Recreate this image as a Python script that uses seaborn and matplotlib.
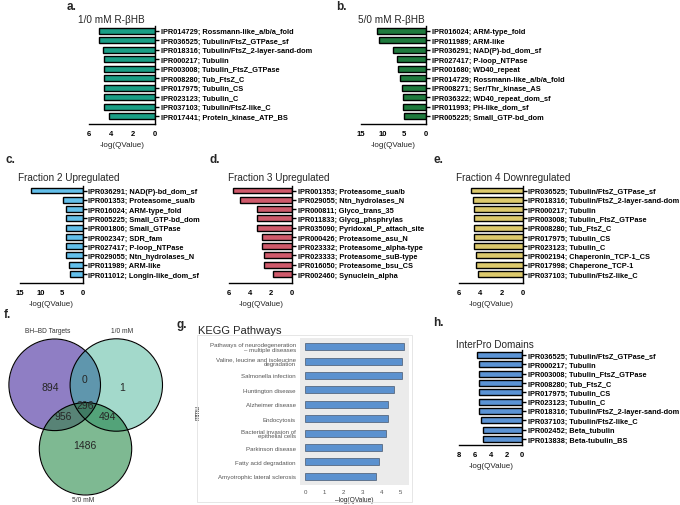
import numpy as np
import matplotlib
matplotlib.use("Agg")
import matplotlib.pyplot as plt
from matplotlib.patches import Circle, Rectangle
import seaborn as sns

W, H = 680, 506

# ---- data ----
a_terms = ["IPR014729; Rossmann-like_a/b/a_fold", "IPR036525; Tubulin/FtsZ_GTPase_sf",
           "IPR018316; Tubulin/FtsZ_2-layer-sand-dom", "IPR000217; Tubulin",
           "IPR003008; Tubulin_FtsZ_GTPase", "IPR008280; Tub_FtsZ_C", "IPR017975; Tubulin_CS",
           "IPR023123; Tubulin_C", "IPR037103; Tubulin/FtsZ-like_C", "IPR017441; Protein_kinase_ATP_BS"]
a_vals = [5.12, 5.09, 4.73, 4.7, 4.7, 4.7, 4.7, 4.7, 4.63, 4.18]

b_terms = ["IPR016024; ARM-type_fold", "IPR011989; ARM-like", "IPR036291; NAD(P)-bd_dom_sf",
           "IPR027417; P-loop_NTPase", "IPR001680; WD40_repeat", "IPR014729; Rossmann-like_a/b/a_fold",
           "IPR008271; Ser/Thr_kinase_AS", "IPR036322; WD40_repeat_dom_sf", "IPR011993; PH-like_dom_sf",
           "IPR005225; Small_GTP-bd_dom"]
b_vals = [11.3, 10.7, 7.5, 6.6, 6.3, 5.9, 5.5, 5.35, 5.3, 5.0]

c_terms = ["IPR036291; NAD(P)-bd_dom_sf", "IPR001353; Proteasome_sua/b", "IPR016024; ARM-type_fold",
           "IPR005225; Small_GTP-bd_dom", "IPR001806; Small_GTPase", "IPR002347; SDR_fam",
           "IPR027417; P-loop_NTPase", "IPR029055; Ntn_hydrolases_N", "IPR011989; ARM-like",
           "IPR011012; Longin-like_dom_sf"]
c_vals = [12.3, 4.76, 3.97, 3.95, 3.9, 3.9, 3.9, 3.85, 3.2, 2.95]

d_terms = ["IPR001353; Proteasome_sua/b", "IPR029055; Ntn_hydrolases_N", "IPR000811; Glyco_trans_35",
           "IPR011833; Glycg_phsphrylas", "IPR035090; Pyridoxal_P_attach_site", "IPR000426; Proteasome_asu_N",
           "IPR023332; Proteasome_alpha-type", "IPR023333; Proteasome_suB-type",
           "IPR016050; Proteasome_bsu_CS", "IPR002460; Synuclein_alpha"]
d_vals = [5.58, 5.0, 3.37, 3.37, 3.37, 2.87, 2.84, 2.71, 2.71, 1.8]

e_terms = ["IPR036525; Tubulin/FtsZ_GTPase_sf", "IPR018316; Tubulin/FtsZ_2-layer-sand-dom",
           "IPR000217; Tubulin", "IPR003008; Tubulin_FtsZ_GTPase", "IPR008280; Tub_FtsZ_C",
           "IPR017975; Tubulin_CS", "IPR023123; Tubulin_C", "IPR002194; Chaperonin_TCP-1_CS",
           "IPR017998; Chaperone_TCP-1", "IPR037103; Tubulin/FtsZ-like_C"]
e_vals = [4.86, 4.7, 4.63, 4.63, 4.63, 4.63, 4.63, 4.38, 4.38, 4.22]

h_terms = ["IPR036525; Tubulin/FtsZ_GTPase_sf", "IPR000217; Tubulin", "IPR003008; Tubulin_FtsZ_GTPase",
           "IPR008280; Tub_FtsZ_C", "IPR017975; Tubulin_CS", "IPR023123; Tubulin_C",
           "IPR018316; Tubulin/FtsZ_2-layer-sand-dom", "IPR037103; Tubulin/FtsZ-like_C",
           "IPR002452; Beta_tubulin", "IPR013838; Beta-tubulin_BS"]
h_vals = [5.77, 5.44, 5.44, 5.44, 5.44, 5.44, 5.44, 5.27, 4.94, 4.94]

kegg_terms = ["Pathways of neurodegeneration\n\u2013 multiple diseases",
              "Valine, leucine and isoleucine\ndegradation", "Salmonella infection",
              "Huntington disease", "Alzheimer disease", "Endocytosis",
              "Bacterial invasion of\nepithelial cells", "Parkinson disease",
              "Fatty acid degradation", "Amyotrophic lateral sclerosis"]
kegg_vals = [5.17, 5.07, 5.07, 4.67, 4.31, 4.34, 4.23, 4.03, 3.84, 3.71]

venn_sets = ["BH\u2013BD Targets", "1/0 mM", "5/0 mM"]
venn_counts = [894, 1, 1486, 0, 956, 494, 296]  # P, T, G, PT, PG, TG, PTG

sns.set_style("white")
plt.rcParams["font.family"] = ["Liberation Sans", "DejaVu Sans"]
plt.rcParams["font.weight"] = "bold"

fig = plt.figure(figsize=(W / 100, H / 100), dpi=100)


def bar_panel(box, terms, vals, color, xmax, step, title, letter, title_xy, letter_xy):
    left, right, first, last, axis_y = box
    n = len(terms)
    sp = (last - first) / (n - 1)
    top = first - sp / 2
    ax = fig.add_axes([left / W, 1 - axis_y / H, (right - left) / W, (axis_y - top) / H])
    sns.barplot(x=vals, y=terms, orient="h", color=color, saturation=1,
                edgecolor="black", linewidth=1.0, width=0.64, ax=ax)
    ax.set_xlim(xmax, 0)
    ax.set_ylim((n - 1) + (axis_y - last) / sp, -0.5)
    ax.set_xticks(np.arange(0, xmax + 0.1, step))
    ax.yaxis.tick_right()
    for s in ["left", "top"]:
        ax.spines[s].set_visible(False)
    for s in ["right", "bottom"]:
        ax.spines[s].set_linewidth(1.0)
        ax.spines[s].set_color("black")
    ax.tick_params(axis="y", length=3, width=1.0, pad=1, labelsize=5.3, colors="black")
    ax.tick_params(axis="x", length=3, width=1.0, pad=1.5, labelsize=5.5, colors="black")
    ax.set_ylabel("")
    ax.set_xlabel("-log(QValue)", fontsize=5.8, labelpad=3)
    fig.text(title_xy[0] / W, 1 - title_xy[1] / H, title, fontsize=8.5 if letter in "ab" else 7.2,
             fontweight="normal", va="center", ha="left")
    fig.text(letter_xy[0] / W, 1 - letter_xy[1] / H, letter, fontsize=8.5, va="center", ha="left")
    return ax


bar_panel((89.3, 155.3, 31.7, 117.3, 125), a_terms, a_vals, "#1A9E86", 6, 2,
          "1/0 mM R-\u03b2HB", "a.", (78, 20), (67, 7))
bar_panel((360.5, 426, 31.7, 117.3, 125), b_terms, b_vals, "#1F7A3D", 15, 5,
          "5/0 mM R-\u03b2HB", "b.", (358, 20), (336, 7))
bar_panel((20, 82.5, 191.5, 275, 284), c_terms, c_vals, "#63BFEA", 15, 5,
          "Fraction 2 Upregulated", "c.", (18, 178), (5, 160))
bar_panel((229, 292.3, 191.5, 275, 284), d_terms, d_vals, "#CF5A6B", 6, 2,
          "Fraction 3 Upregulated", "d.", (228, 178), (210, 160))
bar_panel((459.3, 522.5, 191.5, 275, 284), e_terms, e_vals, "#DCC96C", 6, 2,
          "Fraction 4 Downregulated", "e.", (456, 178), (433, 160))
bar_panel((459, 522.3, 356, 440, 445.5), h_terms, h_vals, "#5B93D4", 8, 2,
          "InterPro Domains", "h.", (456, 345), (433, 323))

# ---- g: KEGG (ggplot look) ----
fig.patches.append(Rectangle((197 / W, 1 - 502.5 / H), (411.5 - 197) / W, (502.5 - 336) / H,
                             transform=fig.transFigure, fill=False, ec="#E2E2E2", lw=0.6))
axg = fig.add_axes([300 / W, 1 - 486 / H, 109 / W, 147 / H])
axg.set_facecolor("#EBEBEB")
sns.barplot(x=kegg_vals, y=kegg_terms, orient="h", color="#5B91CF", saturation=1,
            edgecolor="#2F3F55", linewidth=0.4, width=0.48, ax=axg)
axg.set_xlim(-0.26, 5.43)
axg.set_ylim(9.6, -0.6)
axg.set_xticks(range(6))
for s in axg.spines.values():
    s.set_visible(False)
axg.tick_params(length=2, width=0.5, colors="#555555", labelsize=4.4, pad=1)
for lbl in axg.get_xticklabels() + axg.get_yticklabels():
    lbl.set_fontweight("normal")
    lbl.set_color("#555555")
for lbl in axg.get_yticklabels():
    lbl.set_linespacing(0.95)
axg.set_xlabel("\u2013log(QValue)", fontsize=4.8, fontweight="normal", labelpad=1.5)
axg.set_ylabel("mmu", fontsize=4.8, fontweight="normal")
axg.yaxis.set_label_coords(-(300 - 202) / 109, 0.5)
fig.text(198 / W, 1 - 331 / H, "KEGG Pathways", fontsize=8, fontweight="normal", va="center")
fig.text(176 / W, 1 - 325 / H, "g.", fontsize=8.5, va="center")

# ---- f: Venn ----
axf = fig.add_axes([0, 0, 175 / W, 195 / H])
circles = [(54.7, 385.8, 45.8), (116.3, 386.0, 46.2), (85.5, 449.8, 46.2)]
xx, yy = np.meshgrid(np.linspace(0, 175, 700), np.linspace(311, 506, 780))
inside = [((xx - cx) ** 2 + (yy - cy) ** 2) <= r ** 2 for cx, cy, r in circles]
code = inside[0] * 1 + inside[1] * 2 + inside[2] * 4
lut = np.array([
    [1, 1, 1, 0],
    [143 / 255, 126 / 255, 196 / 255, 1],   # P
    [163 / 255, 218 / 255, 203 / 255, 1],   # T
    [96 / 255, 151 / 255, 174 / 255, 1],    # PT
    [126 / 255, 186 / 255, 146 / 255, 1],   # G
    [88 / 255, 132 / 255, 118 / 255, 1],    # PG
    [84 / 255, 163 / 255, 122 / 255, 1],    # TG
    [64 / 255, 124 / 255, 100 / 255, 1],    # PTG
])
axf.imshow(lut[code], extent=(0, 175, 506, 311), origin="upper", interpolation="bilinear")
for cx, cy, r in circles:
    axf.add_patch(Circle((cx, cy), r, fill=False, ec="black", lw=0.8))
count_pos = [(50, 388), (122, 388), (85, 446), (85, 380), (63, 417), (107, 417), (85, 406)]
for (px, py), cnt in zip(count_pos, venn_counts):
    axf.text(px, py, str(cnt), fontsize=7.5, fontweight="normal", ha="center", va="center")
set_pos = [(48, 332), (122, 332), (83, 501)]
for (px, py), name in zip(set_pos, venn_sets):
    axf.text(px, py, name, fontsize=4.8, fontweight="normal", color="#333333", ha="center", va="center")
axf.set_xlim(0, 175)
axf.set_ylim(506, 311)
axf.set_aspect("auto")
axf.axis("off")
fig.text(4 / W, 1 - 315 / H, "f.", fontsize=8.5, va="center")

fig.savefig("out.png", dpi=100)
